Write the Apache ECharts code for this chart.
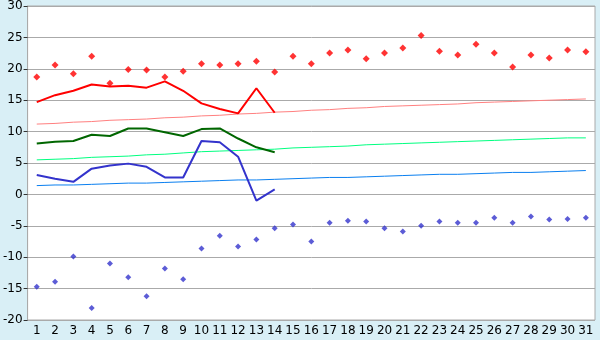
<!DOCTYPE html>
<html><head><meta charset="utf-8">
<script src="https://cdn.jsdelivr.net/npm/echarts@6/dist/echarts.min.js"></script>
<style>html,body{margin:0;padding:0;background:#d9eff6}#c{width:600px;height:340px}</style>
</head><body><div id="c"></div>
<script>
const days = ['1','2','3','4','5','6','7','8','9','10','11','12','13','14','15','16','17','18','19','20','21','22','23','24','25','26','27','28','29','30','31'];
const yTicks = [-20,-15,-10,-5,0,5,10,15,20,25,30];
const recordMax = [18.7,20.6,19.2,22.0,17.7,19.9,19.8,18.7,19.6,20.8,20.6,20.8,21.2,19.5,22.0,20.8,22.5,23.0,21.6,22.5,23.3,25.3,22.8,22.2,23.9,22.5,20.3,22.2,21.7,23.0,22.7];
const recordMin = [-14.7,-13.9,-9.9,-18.1,-11.0,-13.2,-16.2,-11.8,-13.5,-8.6,-6.6,-8.3,-7.2,-5.4,-4.8,-7.5,-4.5,-4.2,-4.3,-5.4,-5.9,-5.0,-4.3,-4.5,-4.5,-3.7,-4.5,-3.5,-4.0,-3.9,-3.7];
const tMax = [14.7,15.8,16.5,17.5,17.2,17.3,17.0,18.0,16.5,14.5,13.6,12.9,16.9,13.0];
const tAvg = [8.1,8.4,8.5,9.5,9.3,10.5,10.5,9.9,9.3,10.4,10.5,8.9,7.5,6.7];
const tMin = [3.1,2.5,2.0,4.1,4.6,4.9,4.4,2.7,2.7,8.5,8.3,6.0,-1.0,0.8];
const normMax = [11.2,11.3,11.5,11.6,11.8,11.9,12.0,12.2,12.3,12.5,12.6,12.8,12.9,13.1,13.2,13.4,13.5,13.7,13.8,14.0,14.1,14.2,14.3,14.4,14.6,14.7,14.8,14.9,15.0,15.1,15.2];
const normAvg = [5.5,5.6,5.7,5.9,6.0,6.1,6.3,6.4,6.6,6.8,6.9,7.0,7.1,7.2,7.4,7.5,7.6,7.7,7.9,8.0,8.1,8.2,8.3,8.4,8.5,8.6,8.7,8.8,8.9,9.0,9.0];
const normMin = [1.4,1.5,1.5,1.6,1.7,1.8,1.8,1.9,2.0,2.1,2.2,2.3,2.3,2.4,2.5,2.6,2.7,2.7,2.8,2.9,3.0,3.1,3.2,3.2,3.3,3.4,3.5,3.5,3.6,3.7,3.8];

const chart = echarts.init(document.getElementById('c'), null, {renderer:'canvas'});
const line = (data, color, width) => ({type:'line', data, symbol:'none', silent:true, animation:false,
  lineStyle:{color, width}, itemStyle:{color}});
const pts = (data, color, size) => ({type:'scatter', data, symbol:'diamond', symbolSize:size, silent:true, animation:false,
  itemStyle:{color}});
chart.setOption({
  backgroundColor:'#d9eff6',
  animation:false,
  grid:{left:26, right:5, top:5, bottom:20, show:true, backgroundColor:'#ffffff', borderColor:'#aaaaaa', borderWidth:1},
  xAxis:{type:'category', data:days, boundaryGap:true,
    axisLine:{lineStyle:{color:'#aaaaaa'}},
    axisTick:{alignWithLabel:true, length:5, lineStyle:{color:'#333'}},
    axisLabel:{color:'#000', fontFamily:'DejaVu Sans', fontSize:12, margin:5, interval:0},
    splitLine:{show:false}},
  yAxis:{type:'value', min:yTicks[0], max:yTicks[yTicks.length-1], interval:5,
    axisLine:{show:true, lineStyle:{color:'#aaaaaa'}},
    axisTick:{show:true, length:4, lineStyle:{color:'#333'}},
    axisLabel:{color:'#000', fontFamily:'DejaVu Sans', fontSize:12, margin:5},
    splitLine:{lineStyle:{color:'#aaaaaa'}}},
  series:[
    line(normMax,'#ff8080',1),
    line(normAvg,'#00ff80',1),
    line(normMin,'#0a7ff0',1),
    line(tMax,'#ff0000',2),
    line(tAvg,'#006600',2),
    line(tMin,'#3333cc',2),
    pts(recordMax,'#ff0000',7),
    pts(recordMin,'#3333cc',6)
  ]
});
</script></body></html>
